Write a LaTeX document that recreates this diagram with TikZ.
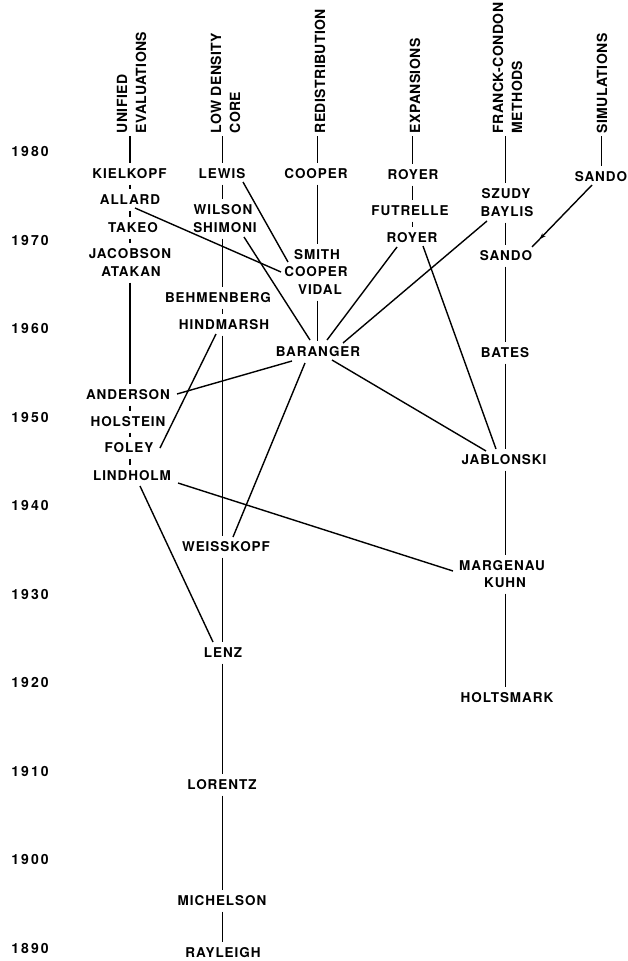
\documentclass[tikz,border=0pt]{standalone}
\usepackage{fontspec}
\setmainfont{TeX Gyre Heros}
\newfontfamily\namefont[LetterSpace=7]{TeX Gyre Heros}
\newfontfamily\hdrfont[LetterSpace=3]{TeX Gyre Heros}
\newfontfamily\yrfont[LetterSpace=15]{TeX Gyre Heros}
\usetikzlibrary{arrows.meta,decorations.markings}
\tikzset{
  nm/.style={font=\namefont\bfseries\fontsize{13.5}{16}\selectfont, inner xsep=3pt, inner ysep=5pt, text height=9.7pt, text depth=0pt},
  hdr/.style={font=\hdrfont\bfseries\fontsize{14}{19}\selectfont, rotate=90, anchor=west, align=left, inner sep=2pt},
  yr/.style={font=\yrfont\bfseries\fontsize{14}{16}\selectfont},
  arrowmark/.style={postaction={decorate}, decoration={markings, mark=at position 0.87 with {\arrow{Stealth[length=6pt,width=4.5pt]}}}}
}
\begin{document}
\begin{tikzpicture}[x=1pt, y=-1pt, line width=1.4pt]
\fill[white] (0,0) rectangle (627,961);
\useasboundingbox (0,0) rectangle (627,961);

% column axes
\coordinate (c1) at (130,0);
\coordinate (c2) at (222.5,0);
\coordinate (c3) at (317.5,0);
\coordinate (c4) at (412.5,0);
\coordinate (c5) at (505.5,0);
\coordinate (c6) at (601.5,0);

% years
\foreach \yy [count=\i from 0] in {1980,1970,1960,1950,1940,1930,1920,1910,1900,1890}
  \node[yr] (y\yy) at (30,151.5+88.5*\i) {\yy};

% headers
\node[hdr] (h1) at (131.5,136) {UNIFIED\\EVALUATIONS};
\node[hdr] (h2) at (225.5,136) {LOW DENSITY\\CORE};
\node[hdr] (h3) at (320,136) {REDISTRIBUTION};
\node[hdr] (h4) at (415,136) {EXPANSIONS};
\node[hdr] (h5) at (507.5,136) {FRANCK-CONDON\\METHODS};
\node[hdr] (h6) at (602,136) {SIMULATIONS};

% column 1
\node[nm] (kielkopf) at (129.5,174) {KIELKOPF};
\node[nm] (allard) at (130,200) {ALLARD};
\node[nm] (takeo) at (133,228) {TAKEO};
\node[nm] (jacobson) at (130,254) {JACOBSON};
\node[nm] (atakan) at (131,272) {ATAKAN};
\node[nm] (anderson) at (128,395) {ANDERSON};
\node[nm] (holstein) at (128,422) {HOLSTEIN};
\node[nm] (foley) at (129,448) {FOLEY};
\node[nm] (lindholm) at (132,476) {LINDHOLM};

% column 2
\node[nm] (lewis) at (222,174) {LEWIS};
\node[nm] (wilson) at (223,210) {WILSON};
\node[nm] (shimoni) at (225,228) {SHIMONI};
\node[nm] (behmenberg) at (218,298) {BEHMENBERG};
\node[nm] (hindmarsh) at (224,325) {HINDMARSH};
\node[nm] (weisskopf) at (226,547) {WEISSKOPF};
\node[nm] (lenz) at (223,653) {LENZ};
\node[nm] (lorentz) at (222,785) {LORENTZ};
\node[nm] (michelson) at (222,901) {MICHELSON};
\node[nm] (rayleigh) at (223,953) {RAYLEIGH};

% column 3
\node[nm] (cooper1) at (316,174) {COOPER};
\node[nm] (smith) at (317,255) {SMITH};
\node[nm] (cooper2) at (316,272) {COOPER};
\node[nm] (vidal) at (320,290) {VIDAL};
\node[nm] (baranger) at (318,352) {BARANGER};

% column 4
\node[nm] (royer1) at (413,175) {ROYER};
\node[nm] (futrelle) at (410,211) {FUTRELLE};
\node[nm] (royer2) at (412,238) {ROYER};

% column 5
\node[nm] (szudy) at (506,194) {SZUDY};
\node[nm] (baylis) at (507,212) {BAYLIS};
\node[nm] (sando2) at (506,256) {SANDO};
\node[nm] (bates) at (505,353) {BATES};
\node[nm] (jablonski) at (504,460) {JABLONSKI};
\node[nm] (margenau) at (502,566) {MARGENAU};
\node[nm] (kuhn) at (505,583) {KUHN};
\node[nm] (holtsmark) at (507,698) {HOLTSMARK};

% column 6
\node[nm] (sando1) at (601,177) {SANDO};

% column lines
\draw (h1.west -| c1) -- (kielkopf.north -| c1);
\draw (kielkopf.south -| c1) -- (allard.north -| c1);
\draw (allard.south -| c1) -- (takeo.north -| c1);
\draw (takeo.south -| c1) -- (jacobson.north -| c1);
\draw (atakan.south -| c1) -- (anderson.north -| c1);
\draw (anderson.south -| c1) -- (holstein.north -| c1);
\draw (holstein.south -| c1) -- (foley.north -| c1);
\draw (foley.south -| c1) -- (lindholm.north -| c1);

\draw (h2.west -| c2) -- (lewis.north -| c2);
\draw (lewis.south -| c2) -- (wilson.north -| c2);
\draw (shimoni.south -| c2) -- (behmenberg.north -| c2);
\draw (behmenberg.south -| c2) -- (hindmarsh.north -| c2);
\draw (hindmarsh.south -| c2) -- (weisskopf.north -| c2);
\draw (weisskopf.south -| c2) -- (lenz.north -| c2);
\draw (lenz.south -| c2) -- (lorentz.north -| c2);
\draw (lorentz.south -| c2) -- (michelson.north -| c2);
\draw (michelson.south -| c2) -- (rayleigh.north -| c2);

\draw (h3.west -| c3) -- (cooper1.north -| c3);
\draw (cooper1.south -| c3) -- (smith.north -| c3);
\draw (vidal.south -| c3) -- (baranger.north -| c3);

\draw (h4.west -| c4) -- (royer1.north -| c4);
\draw (royer1.south -| c4) -- (futrelle.north -| c4);
\draw (futrelle.south -| c4) -- (royer2.north -| c4);

\draw (h5.west -| c5) -- (szudy.north -| c5);
\draw (baylis.south -| c5) -- (sando2.north -| c5);
\draw (sando2.south -| c5) -- (bates.north -| c5);
\draw (bates.south -| c5) -- (jablonski.north -| c5);
\draw (jablonski.south -| c5) -- (margenau.north -| c5);
\draw (kuhn.south -| c5) -- (holtsmark.north -| c5);

\draw (h6.west -| c6) -- (sando1.north -| c6);

% cross connections
\draw ([shift={(5,8)}]allard.center) -- ([shift={(-35,0)}]cooper2.center);
\draw ([shift={(21,8)}]lewis.center) -- ([shift={(-29,7)}]smith.center);
\draw ([shift={(19,9)}]shimoni.center) -- ([shift={(-8,-12)}]baranger.center);
\draw ([shift={(-15,9)}]royer2.center) -- ([shift={(9,-12)}]baranger.center);
\draw ([shift={(-20,9)}]baylis.center) -- ([shift={(25,-9)}]baranger.center);
\draw ([shift={(11,8)}]royer2.center) -- ([shift={(-8,-11)}]jablonski.center);
\draw ([shift={(14,8)}]baranger.center) -- ([shift={(-18,-9)}]jablonski.center);
\draw ([shift={(-26,9)}]baranger.center) -- ([shift={(49,-1)}]anderson.center);
\draw ([shift={(-13,11)}]baranger.center) -- ([shift={(7,-10)}]weisskopf.center);
\draw ([shift={(-8,9)}]hindmarsh.center) -- ([shift={(31,0)}]foley.center);
\draw ([shift={(46,7)}]lindholm.center) -- ([shift={(-49,5)}]margenau.center);
\draw ([shift={(8,10)}]lindholm.center) -- ([shift={(-10,-11)}]lenz.center);
\draw[arrowmark] ([shift={(-9,8)}]sando1.center) -- ([shift={(26,-9)}]sando2.center);
\end{tikzpicture}
\end{document}
